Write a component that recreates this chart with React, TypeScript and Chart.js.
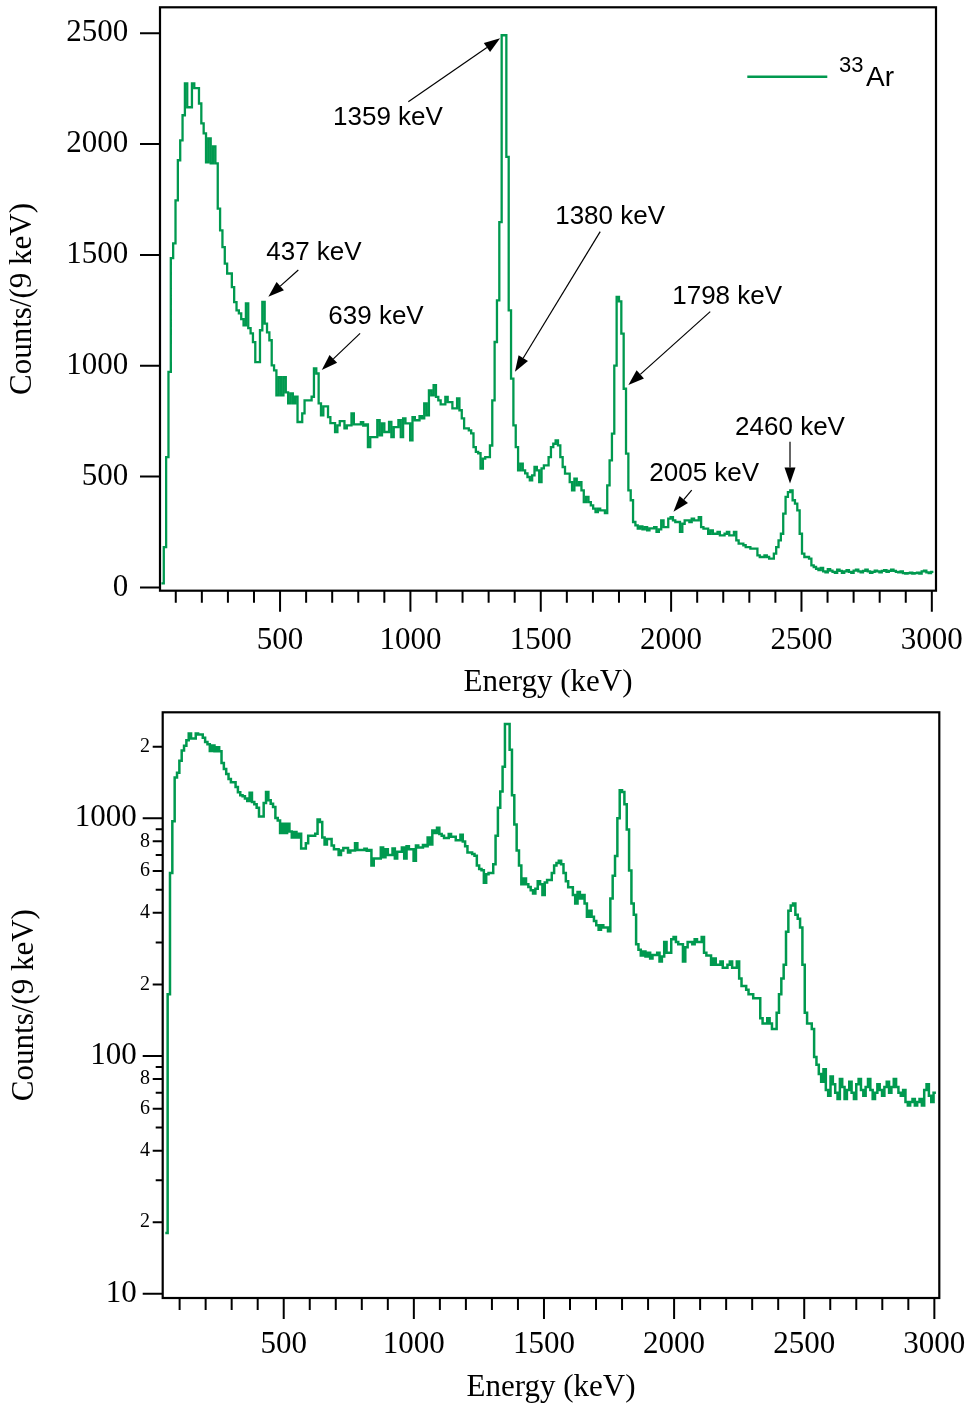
import React, { useEffect, useRef } from 'react';
import { Chart, registerables } from 'chart.js';

Chart.register(...registerables);

const GREEN = '#00994f';
const SERIF = '"Liberation Serif", "Times New Roman", serif';
const SANS = '"Liberation Sans", Arial, sans-serif';

// ---- data: 9 keV bins, first bin starts at 45 keV ----
const BIN_START_KEV = 45;
const BIN_WIDTH_KEV = 9;
const counts = [
  18, 182, 588, 972, 1485, 1552, 1746, 1927, 2017, 2130, // 45
  2274, 2166, 2166, 2274, 2252, 2252, 2183, 2093, 2048, 1918, // 135
  2025, 1913, 1990, 1913, 1709, 1611, 1535, 1461, 1416, 1416, // 225
  1355, 1287, 1250, 1236, 1210, 1182, 1281, 1170, 1146, 1106, // 315
  1016, 1016, 1160, 1288, 1190, 1150, 1115, 1002, 979, 866, // 405
  948, 866, 948, 880, 830, 875, 830, 860, 746, 746, // 495
  785, 844, 844, 844, 860, 988, 965, 830, 776, 817, // 585
  817, 768, 741, 741, 701, 731, 750, 750, 717, 731, // 675
  731, 785, 735, 735, 735, 745, 730, 735, 633, 678, // 765
  678, 678, 754, 686, 740, 701, 701, 746, 678, 723, // 855
  723, 754, 678, 762, 740, 740, 663, 768, 754, 754, // 945
  772, 762, 830, 776, 889, 866, 912, 859, 844, 826, // 1035
  826, 859, 836, 836, 808, 808, 853, 799, 762, 717, // 1125
  717, 708, 695, 633, 611, 605, 536, 581, 588, 588, // 1215
  640, 844, 1107, 1295, 1648, 2491, 2491, 1942, 1250, 942, // 1305
  731, 633, 528, 558, 528, 514, 498, 483, 505, 543, // 1395
  528, 475, 537, 550, 550, 588, 633, 648, 663, 641, // 1485
  588, 543, 513, 513, 475, 438, 490, 460, 475, 438, // 1575
  385, 408, 385, 370, 355, 340, 355, 347, 347, 335, // 1665
  460, 573, 694, 1000, 1310, 1290, 1145, 896, 603, 438, // 1755
  393, 295, 280, 265, 275, 262, 272, 257, 266, 266, // 1845
  272, 250, 262, 302, 272, 272, 310, 317, 302, 295, // 1935
  295, 250, 287, 302, 302, 295, 310, 302, 302, 317, // 2025
  272, 265, 265, 242, 257, 242, 242, 250, 235, 235, // 2115
  242, 250, 235, 235, 250, 212, 197, 197, 190, 182, // 2205
  182, 175, 175, 175, 144, 137, 137, 144, 137, 130, // 2295
  130, 152, 182, 212, 242, 333, 408, 430, 438, 393, // 2385
  378, 347, 242, 152, 137, 137, 130, 99, 92, 84, // 2475
  78, 88, 72, 68, 82, 76, 70, 66, 80, 74, // 2565
  66, 72, 78, 70, 66, 76, 80, 72, 68, 74, // 2655
  80, 72, 66, 70, 76, 72, 68, 74, 78, 70, // 2745
  74, 80, 74, 70, 68, 72, 64, 62, 64, 66, // 2835
  62, 64, 66, 62, 72, 76, 68, 64, 70, // 2925
];

// ---- axis ticks / labels ----
const xTickValues = [100, 200, 300, 400, 500, 600, 700, 800, 900, 1000, 1100, 1200, 1300, 1400, 1500,
  1600, 1700, 1800, 1900, 2000, 2100, 2200, 2300, 2400, 2500, 2600, 2700, 2800, 2900, 3000];
const xLabelValues = [500, 1000, 1500, 2000, 2500, 3000];
const linYTicks = [0, 500, 1000, 1500, 2000, 2500];
const logMajorTicks = [10, 100, 1000];
const logMinorTicks = [20, 30, 40, 50, 60, 70, 80, 90, 200, 300, 400, 500, 600, 700, 800, 900, 2000];
const logMinorLabelled = [20, 40, 60, 80, 200, 400, 600, 800, 2000];
const logMinorLabels = ['2', '4', '6', '8', '2', '4', '6', '8', '2'];

// ---- peak annotations (data units: keV, counts) ----
const peakLabels = ['1359 keV', '437 keV', '639 keV', '1380 keV', '1798 keV', '2005 keV', '2460 keV'];
const labelE = [914, 630, 868, 1766, 2215, 2127, 2456];
const labelC = [2118, 1509, 1220, 1671, 1310, 511, 719];
const tailE = [992, 570, 807, 1728, 2150, 2079, 2456];
const tailC = [2191, 1432, 1146, 1605, 1244, 439, 657];
const tipE = [1344, 455, 660, 1401, 1836, 2009, 2456];
const tipC = [2477, 1311, 981, 973, 913, 341, 469];

const points = counts.map((c, i) => ({ x: BIN_START_KEV + i * BIN_WIDTH_KEV, y: c }));
points.push({ x: BIN_START_KEV + counts.length * BIN_WIDTH_KEV, y: counts[counts.length - 1] });

const decorPlugin = {
  id: 'decor',
  afterDraw(chart: any, _args: any, opts: any) {
    const ctx = chart.ctx;
    const a = chart.chartArea;
    const xs = chart.scales.x;
    const ys = chart.scales.y;
    ctx.save();
    ctx.strokeStyle = '#000';
    ctx.fillStyle = '#000';
    ctx.lineWidth = 2;
    ctx.beginPath();
    for (const v of xTickValues) {
      const px = xs.getPixelForValue(v);
      const len = xLabelValues.includes(v) ? 21 : 12;
      ctx.moveTo(px, a.bottom);
      ctx.lineTo(px, a.bottom + len);
    }
    for (const v of opts.yMajor) {
      const py = ys.getPixelForValue(v);
      ctx.moveTo(a.left - 20, py);
      ctx.lineTo(a.left, py);
    }
    for (const v of opts.yMinor || []) {
      const py = ys.getPixelForValue(v);
      const len = logMinorLabelled.includes(v) ? 10 : 7;
      ctx.moveTo(a.left - len, py);
      ctx.lineTo(a.left, py);
    }
    ctx.stroke();
    ctx.lineWidth = 2.2;
    ctx.strokeRect(a.left, a.top, a.right - a.left, a.bottom - a.top);

    if (opts.yMinor) {
      ctx.font = `20px ${SERIF}`;
      ctx.textAlign = 'right';
      ctx.textBaseline = 'middle';
      logMinorLabelled.forEach((v, i) => {
        ctx.fillText(logMinorLabels[i], a.left - 12.7, ys.getPixelForValue(v));
      });
    }

    if (opts.annotate) {
      ctx.font = `26px ${SANS}`;
      ctx.textAlign = 'center';
      ctx.textBaseline = 'middle';
      for (let i = 0; i < peakLabels.length; i++) {
        ctx.fillText(peakLabels[i], xs.getPixelForValue(labelE[i]), ys.getPixelForValue(labelC[i]));
        const x1 = xs.getPixelForValue(tailE[i]);
        const y1 = ys.getPixelForValue(tailC[i]);
        const x2 = xs.getPixelForValue(tipE[i]);
        const y2 = ys.getPixelForValue(tipC[i]);
        const ang = Math.atan2(y2 - y1, x2 - x1);
        const hl = 16;
        const hw = 5.5;
        const bx = x2 - hl * Math.cos(ang);
        const by = y2 - hl * Math.sin(ang);
        ctx.lineWidth = 1.2;
        ctx.beginPath();
        ctx.moveTo(x1, y1);
        ctx.lineTo(bx, by);
        ctx.stroke();
        ctx.beginPath();
        ctx.moveTo(x2, y2);
        ctx.lineTo(bx + hw * Math.sin(ang), by - hw * Math.cos(ang));
        ctx.lineTo(bx - hw * Math.sin(ang), by + hw * Math.cos(ang));
        ctx.closePath();
        ctx.fill();
      }
      // legend
      const ly = a.top + 69.4;
      ctx.strokeStyle = GREEN;
      ctx.lineWidth = 2.5;
      ctx.beginPath();
      ctx.moveTo(a.right - 188.7, ly);
      ctx.lineTo(a.right - 108.7, ly);
      ctx.stroke();
      ctx.textAlign = 'left';
      ctx.textBaseline = 'alphabetic';
      ctx.font = `22px ${SANS}`;
      ctx.fillText('33', a.right - 97, a.top + 64.4);
      ctx.font = `28px ${SANS}`;
      ctx.fillText('Ar', a.right - 70, a.top + 78.5);
    }
    ctx.restore();
  },
};

const serif = (size: number) => ({ family: SERIF, size, lineHeight: 1 });

const noPad = (s: any) => {
  s.paddingLeft = 0;
  s.paddingRight = 0;
  s.paddingTop = 0;
  s.paddingBottom = 0;
};

function xScale(min: number, max: number, height: number, tickPad: number, titlePad: number) {
  return {
    type: 'linear',
    min,
    max,
    grid: { display: false, drawTicks: false },
    border: { display: false },
    afterBuildTicks: (s: any) => {
      s.ticks = xTickValues.map((v) => ({ value: v }));
    },
    afterFit: (s: any) => {
      s.height = height;
      noPad(s);
    },
    ticks: {
      autoSkip: false,
      maxRotation: 0,
      padding: tickPad,
      color: '#000',
      font: serif(31),
      callback: (v: any) => (xLabelValues.includes(v) ? String(v) : ''),
    },
    title: {
      display: true,
      text: 'Energy (keV)',
      color: '#000',
      font: serif(31),
      padding: { top: 0, bottom: titlePad },
    },
  };
}

export default function App() {
  const topRef = useRef<HTMLCanvasElement>(null);
  const botRef = useRef<HTMLCanvasElement>(null);

  useEffect(() => {
    const dataset = (w: number) => ({
      data: points,
      borderColor: GREEN,
      borderWidth: w,
      stepped: 'before' as const,
      pointRadius: 0,
      fill: false,
      tension: 0,
    });

    const top = new Chart(topRef.current as HTMLCanvasElement, {
      type: 'line',
      data: { datasets: [dataset(2.3)] },
      plugins: [decorPlugin],
      options: {
        responsive: true,
        maintainAspectRatio: false,
        animation: false,
        layout: { padding: { top: 7.3, right: 33, left: 0, bottom: 0 } },
        plugins: {
          legend: { display: false },
          tooltip: { enabled: false },
          decor: { yMajor: linYTicks, annotate: true },
        } as any,
        scales: {
          x: xScale(39.5, 3016, 109.3, 34.8, 1.5) as any,
          y: {
            type: 'linear',
            min: -15,
            max: 2617,
            grid: { display: false, drawTicks: false },
            border: { display: false },
            afterBuildTicks: (s: any) => {
              s.ticks = linYTicks.map((v) => ({ value: v }));
            },
            afterFit: (s: any) => {
              s.width = 160;
              noPad(s);
            },
            ticks: {
              autoSkip: false,
              padding: 31.7,
              color: '#000',
              font: serif(31),
              callback: (v: any) => String(v),
            },
            title: {
              display: true,
              text: 'Counts/(9 keV)',
              color: '#000',
              font: serif(31),
              padding: { top: 7.5, bottom: 0 },
            },
          } as any,
        },
      },
    });

    const bot = new Chart(botRef.current as HTMLCanvasElement, {
      type: 'line',
      data: { datasets: [dataset(2.5)] },
      plugins: [decorPlugin],
      options: {
        responsive: true,
        maintainAspectRatio: false,
        animation: false,
        layout: { padding: { top: 12.3, right: 29.7, left: 0, bottom: 0 } },
        plugins: {
          legend: { display: false },
          tooltip: { enabled: false },
          decor: { yMajor: logMajorTicks, yMinor: logMinorTicks, annotate: false },
        } as any,
        scales: {
          x: xScale(35, 3019, 112, 31.5, 6.5) as any,
          y: {
            type: 'logarithmic',
            min: 9.6,
            max: 2790,
            grid: { display: false, drawTicks: false },
            border: { display: false },
            afterBuildTicks: (s: any) => {
              s.ticks = logMajorTicks.map((v) => ({ value: v }));
            },
            afterFit: (s: any) => {
              s.width = 162.7;
              noPad(s);
            },
            ticks: {
              autoSkip: false,
              padding: 26,
              color: '#000',
              font: serif(31),
              callback: (v: any) => String(v),
            },
            title: {
              display: true,
              text: 'Counts/(9 keV)',
              color: '#000',
              font: serif(31),
              padding: { top: 9.5, bottom: 0 },
            },
          } as any,
        },
      },
    });

    return () => {
      top.destroy();
      bot.destroy();
    };
  }, []);

  return (
    <div style={{ position: 'absolute', left: 0, top: 0, width: 969, height: 1410, background: '#fff' }}>
      <div style={{ position: 'absolute', left: 0, top: 0, width: 969, height: 700 }}>
        <canvas ref={topRef} />
      </div>
      <div style={{ position: 'absolute', left: 0, top: 700, width: 969, height: 710 }}>
        <canvas ref={botRef} />
      </div>
    </div>
  );
}
